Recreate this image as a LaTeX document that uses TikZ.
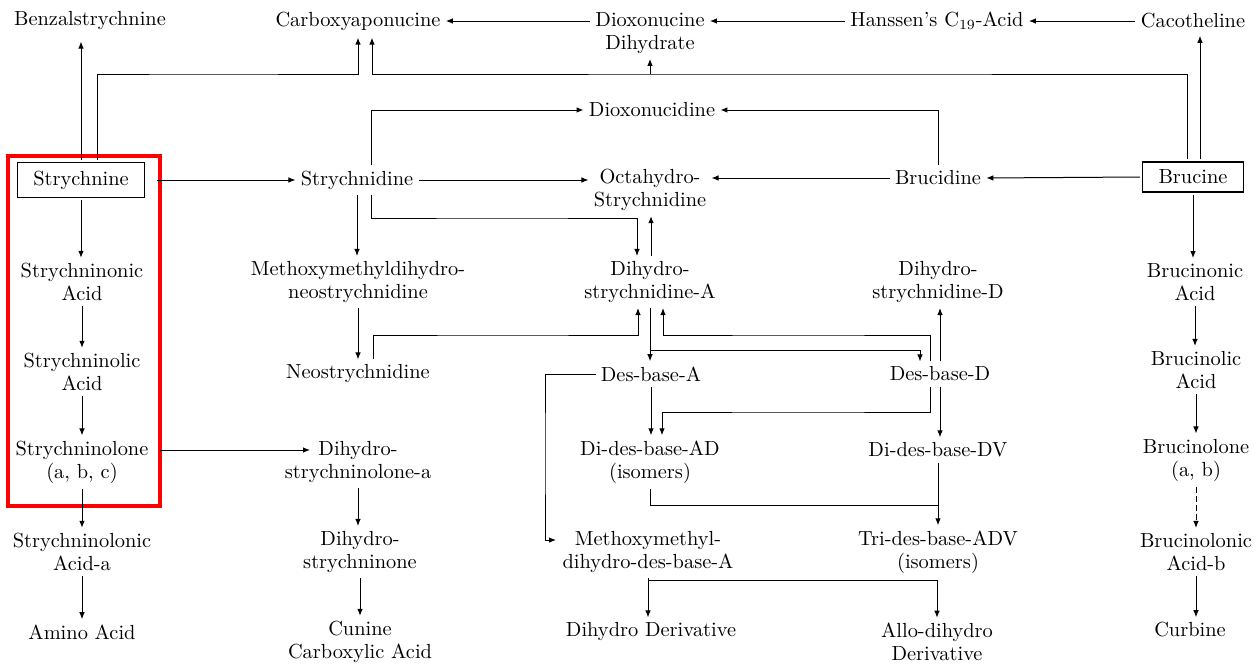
\documentclass[tikz,border=0pt]{standalone}
\usetikzlibrary{arrows.meta,calc}
\tikzset{
  cmpd/.style={align=center, inner sep=1.5pt, font=\fontsize{10.2}{11.5}\selectfont},
  boxcmpd/.style={cmpd, draw, line width=0.6pt, inner xsep=8pt, inner ysep=4pt},
  arr/.style={-{Latex[length=3.5pt,width=2.8pt]}, line width=0.5pt, shorten >=1pt, shorten <=1pt},
  link/.style={line width=0.5pt},
}
\begin{document}
\begin{tikzpicture}[x=0.5pt,y=-0.5pt]
\useasboundingbox (0,0) rectangle (1254,664);
\node[cmpd] (benzal) at (90,21) {Benzalstrychnine};
\node[cmpd] (carboxy) at (358,21) {Carboxyaponucine};
\node[cmpd] (dioxdihyd) at (650,33) {Dioxonucine\\Dihydrate};
\node[cmpd] (hanssen) at (937,21) {Hanssen's C$_{19}$-Acid};
\node[cmpd] (cacoth) at (1193,21) {Cacotheline};
\node[cmpd] (dioxcid) at (652,110) {Dioxonucidine};
\node[boxcmpd] (strych) at (81,180) {Strychnine};
\node[cmpd] (strychd) at (357,180) {Strychnidine};
\node[cmpd] (octa) at (650,190) {Octahydro-\\Strychnidine};
\node[cmpd] (brucd) at (938,178) {Brucidine};
\node[boxcmpd] (brucine) at (1193,177) {Brucine};
\node[cmpd] (snonic) at (82,282) {Strychninonic\\Acid};
\node[cmpd] (mmneo) at (358,282) {Methoxymethyldihydro-\\neostrychnidine};
\node[cmpd] (dsA) at (650,282) {Dihydro-\\strychnidine-A};
\node[cmpd] (dsD) at (938,282) {Dihydro-\\strychnidine-D};
\node[cmpd] (bnonic) at (1195,282) {Brucinonic\\Acid};
\node[cmpd] (snolic) at (82,372) {Strychninolic\\Acid};
\node[cmpd] (neo) at (358,374) {Neostrychnidine};
\node[cmpd] (dbA) at (651,374) {Des-base-A};
\node[cmpd] (dbD) at (940,374) {Des-base-D};
\node[cmpd] (bnolic) at (1196,370) {Brucinolic\\Acid};
\node[cmpd] (snolone) at (82,462) {Strychninolone\\(a, b, c)};
\node[cmpd] (dhsnolone) at (358,462) {Dihydro-\\strychninolone-a};
\node[cmpd] (ddAD) at (650,462) {Di-des-base-AD\\(isomers)};
\node[cmpd] (ddDV) at (938,450) {Di-des-base-DV};
\node[cmpd] (bnolone) at (1196,460) {Brucinolone\\(a, b)};
\node[cmpd] (snolonic) at (82,552) {Strychninolonic\\Acid-a};
\node[cmpd] (dhsnone) at (360,552) {Dihydro-\\strychninone};
\node[cmpd] (mmdbA) at (648,552) {Methoxymethyl-\\dihydro-des-base-A};
\node[cmpd] (triADV) at (938,552) {Tri-des-base-ADV\\(isomers)};
\node[cmpd] (bnolonic) at (1196,552) {Brucinolonic\\Acid-b};
\node[cmpd] (amino) at (82,632) {Amino Acid};
\node[cmpd] (cunine) at (360,642) {Cunine\\Carboxylic Acid};
\node[cmpd] (dihydder) at (651,632) {Dihydro Derivative};
\node[cmpd] (allo) at (937,642) {Allo-dihydro\\Derivative};
\node[cmpd] (curbine) at (1190,630) {Curbine};
\coordinate (topbus) at (200,74);
\coordinate (topbusR) at (800,74);
\coordinate (busA) at (500,218);
\coordinate (busB) at (500,335);
\coordinate (busB2) at (800,335);
\coordinate (busC) at (800,350);
\coordinate (busD) at (545,450);
\coordinate (busE) at (800,412);
\coordinate (busF) at (800,505);
\coordinate (busG) at (800,580);
\draw[red, line width=2pt] (8,156) rectangle (160,506);
\draw[arr] (cacoth.west) -- (hanssen.east);
\draw[arr] (hanssen.west) -- (hanssen.west -| dioxdihyd.east);
\draw[arr] (dioxdihyd.west |- carboxy.east) -- (carboxy.east);
\draw[arr, shorten >=4pt] (strych.north) -- (strych.north |- benzal.south);
\draw[arr, shorten >=2pt] ([xshift=8pt]strych.north) |- (topbus) -| (carboxy.south);
\draw[arr, shorten >=2pt] ([xshift=-3pt]brucine.north) |- (topbusR) -| ([xshift=7pt]carboxy.south);
\draw[arr, shorten <=0pt] (topbusR -| dioxdihyd.south) -- (dioxdihyd.south);
\draw[arr, shorten >=2pt] ([xshift=3.5pt]brucine.north) -- ([xshift=3.5pt]brucine.north |- cacoth.south);
\draw[arr] ([xshift=7pt]strychd.north) |- (dioxcid.west);
\draw[arr] (brucd.north) |- (dioxcid.east);
\draw[arr, shorten <=6pt] (strych.east) -- (strychd.west);
\draw[arr] (strychd.east) -- (strychd.east -| octa.west);
\draw[arr] (brucd.west) -- (brucd.west -| octa.east);
\draw[arr] (brucine.west) -- (brucd.east);
\draw[arr] ([xshift=7pt]strychd.south) |- (busA) -| ([xshift=-6.5pt]dsA.north);
\draw[arr] ([xshift=0.5pt]dsA.north) -- ([xshift=0.5pt]dsA.north |- octa.south);
\draw[arr] (strychd.south) -- (strychd.south |- mmneo.north);
\draw[arr] (mmneo.south) -- (mmneo.south |- neo.north);
\draw[arr] ([xshift=7.5pt]neo.north) |- (busB) -| ([xshift=-6pt]dsA.south);
\draw[arr] ([xshift=-5pt]dbD.north) |- (busB2) -| ([xshift=6.5pt]dsA.south);
\draw[arr] (dsA.south) -- (dsA.south |- dbA.north);
\draw[arr, shorten <=0pt] (busC -| dsA.south) -| ([xshift=-10pt]dbD.north);
\draw[arr] (dbD.north) -- (dbD.north |- dsD.south);
\draw[arr] (dbA.west) -| (busD) |- ([xshift=-45pt,yshift=6pt]mmdbA.center);
\draw[arr] (dbA.south) -- (dbA.south |- ddAD.north);
\draw[arr] ([xshift=-5pt]dbD.south) |- (busE) -| ([xshift=6pt]ddAD.north);
\draw[arr] (dbD.south) -- (dbD.south |- ddDV.north);
\draw[arr] (ddDV.south) -- (ddDV.south |- triADV.north);
\draw[link, shorten <=1pt] (ddAD.south) |- (busF -| ddDV.south);
\draw[arr] (mmdbA.south) -- (mmdbA.south |- dihydder.north);
\draw[arr, shorten <=0pt] (busG -| mmdbA.south) -| (allo.north);
\draw[arr] (strych.south) -- (strych.south |- snonic.north);
\draw[arr] (snonic.south) -- (snolic.north);
\draw[arr] (snolic.south) -- (snolone.north);
\draw[arr] (snolone.south) -- (snolonic.north);
\draw[arr] (snolonic.south) -- (amino.north);
\draw[arr, shorten <=4pt] ([yshift=6pt]snolone.east) -- ([xshift=-23pt,yshift=6pt]dhsnolone.center);
\draw[arr] (dhsnolone.south) -- (dhsnolone.south |- dhsnone.north);
\draw[arr] (dhsnone.south) -- (cunine.north);
\draw[arr] (brucine.south) -- (brucine.south |- bnonic.north);
\draw[arr] (bnonic.south) -- (bnonic.south |- bnolic.north);
\draw[arr] (bnolic.south) -- (bnolone.north);
\draw[arr, dash pattern=on 3pt off 1.5pt] (bnolone.south) -- (bnolonic.north);
\draw[arr] (bnolonic.south) -- (bnolonic.south |- curbine.north);
\end{tikzpicture}
\end{document}
